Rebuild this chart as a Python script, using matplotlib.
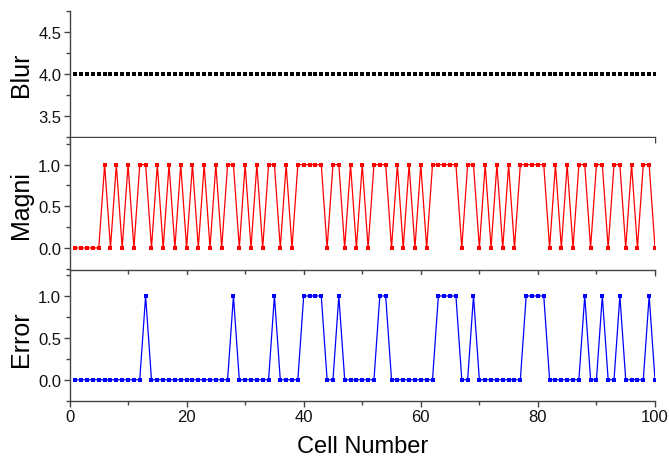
import matplotlib
matplotlib.use('Agg')
import matplotlib.pyplot as plt
import numpy as np
from matplotlib.ticker import MultipleLocator, FormatStrFormatter

plt.rcParams['font.family'] = ['Liberation Sans', 'DejaVu Sans']

# data
cell = np.arange(1, 101)
blur = [4.0] * 100
magni_ones = [6, 8, 10, 12, 13, 15, 17, 19, 21, 23, 25, 27, 28, 30, 32, 34, 35, 37,
              39, 40, 41, 42, 43, 45, 46, 48, 50, 52, 53, 54, 56, 58, 60,
              62, 63, 64, 65, 66, 68, 69, 71, 73, 75, 77, 78, 79, 80, 81,
              83, 85, 87, 88, 90, 91, 93, 94, 96, 98, 99]
error_ones = [13, 28, 35, 40, 41, 42, 43, 46, 53, 54, 63, 64, 65, 66, 69,
              78, 79, 80, 81, 88, 91, 94, 99]
magni = [1 if c in magni_ones else 0 for c in cell]
error = [1 if c in error_ones else 0 for c in cell]

W, H = 669, 460
fig = plt.figure(figsize=(W / 100, H / 100), dpi=100)

left = 69.5 / W
width = (655 - 69.5) / W
def box(top, bottom):
    return [left, 1 - bottom / H, width, (bottom - top) / H]

ax1 = fig.add_axes(box(12.3, 137.7))
ax2 = fig.add_axes(box(139, 271))
ax3 = fig.add_axes(box(276, 401.7))

spine_col = '#444444'
for ax in (ax1, ax2, ax3):
    ax.spines['top'].set_visible(False)
    ax.spines['right'].set_visible(False)
    for s in ('left', 'bottom'):
        ax.spines[s].set_color(spine_col)
        ax.spines[s].set_linewidth(1.0)
    ax.set_xlim(0, 100)
    ax.xaxis.set_major_locator(MultipleLocator(20))
    ax.xaxis.set_minor_locator(MultipleLocator(10))
    ax.yaxis.set_major_locator(MultipleLocator(0.5))
    ax.yaxis.set_minor_locator(MultipleLocator(0.25))
    ax.yaxis.set_major_formatter(FormatStrFormatter('%.1f'))
    ax.tick_params(which='both', direction='out', color=spine_col, width=1.0,
                   labelsize=12, labelcolor='#111111', pad=2)
    ax.tick_params(which='major', length=4)
    ax.tick_params(which='minor', length=3)

mk = dict(marker='s', ms=3.4, mew=0)

ax1.plot(cell, blur, ls='none', color='black', **mk)
ax1.set_ylim(3.25, 4.75)
ax1.set_ylabel('Blur', fontsize=18)
ax1.tick_params(axis='x', labelbottom=False)

ax2.plot(cell, magni, '-', lw=0.9, color='#ff0000', **mk)
ax2.set_ylim(-0.265, 1.32)
ax2.set_ylabel('Magni', fontsize=18)
ax2.tick_params(axis='x', labelbottom=False)

ax3.plot(cell, error, '-', lw=0.9, color='#0000ff', **mk)
ax3.set_ylim(-0.25, 1.25)
ax3.set_ylabel('Error', fontsize=18)
ax3.set_xlabel('Cell Number', fontsize=17, labelpad=8)

for ax in (ax1, ax2, ax3):
    ax.yaxis.set_label_coords(-0.063, 0.5)

fig.savefig('out.png', dpi=100)
